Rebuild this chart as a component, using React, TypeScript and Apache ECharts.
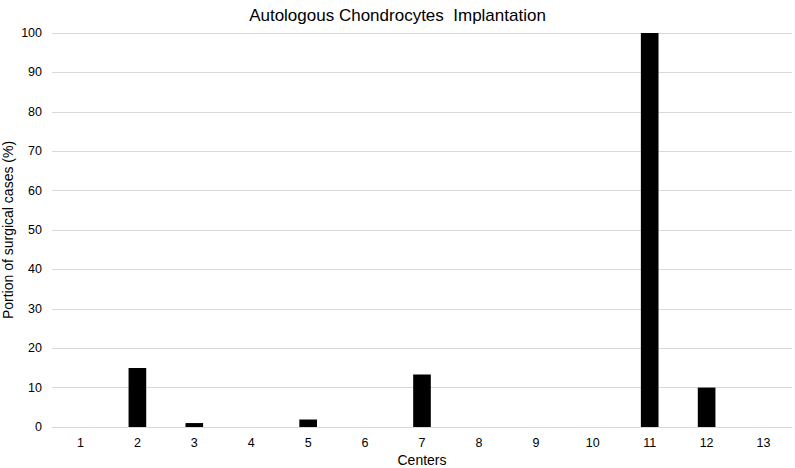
import React, { useEffect, useRef } from "react";
import * as echarts from "echarts";

const centers = ["1", "2", "3", "4", "5", "6", "7", "8", "9", "10", "11", "12", "13"];
const portion = [0, 15, 1, 0, 1.9, 0, 13.3, 0, 0, 0, 100, 10, 0];
const titleText = "Autologous Chondrocytes  Implantation";
const xName = "Centers";
const yName = "Portion of surgical cases (%)";

export default function App() {
  const ref = useRef<HTMLDivElement>(null);
  useEffect(() => {
    if (!ref.current) return;
    const chart = echarts.init(ref.current, null, { renderer: "svg" });
    const font = "'Liberation Sans', Arial, sans-serif";
    chart.setOption({
      animation: false,
      textStyle: { fontFamily: font },
      title: {
        text: titleText,
        left: "center",
        top: 2,
        textStyle: { fontFamily: font, fontSize: 17, fontWeight: "normal", color: "#000" },
      },
      grid: { left: 52, right: 3, top: 33, bottom: 41, containLabel: false, outerBoundsMode: "none" },
      xAxis: {
        type: "category",
        data: centers,
        name: xName,
        nameLocation: "middle",
        nameGap: 26,
        nameMoveOverlap: false,
        nameTextStyle: { fontFamily: font, fontSize: 14, color: "#000" },
        axisLine: { show: true, lineStyle: { color: "#d9d9d9", width: 1 } },
        axisTick: { show: false },
        axisLabel: { fontFamily: font, fontSize: 12.5, color: "#000", margin: 9 },
      },
      yAxis: {
        type: "value",
        min: 0,
        max: 100,
        interval: 10,
        name: yName,
        nameLocation: "middle",
        nameGap: 37,
        nameMoveOverlap: false,
        nameTextStyle: { fontFamily: font, fontSize: 14, color: "#000" },
        axisLine: { show: false },
        axisTick: { show: false },
        axisLabel: { fontFamily: font, fontSize: 12.5, color: "#000", margin: 10 },
        splitLine: { lineStyle: { color: "#d9d9d9", width: 1 } },
      },
      series: [
        {
          type: "bar",
          data: portion,
          barWidth: "31%",
          itemStyle: { color: "#000" },
        },
      ],
    });
    return () => chart.dispose();
  }, []);
  return <div ref={ref} style={{ width: 795, height: 468, position: "absolute", left: 0, top: 0 }} />;
}
